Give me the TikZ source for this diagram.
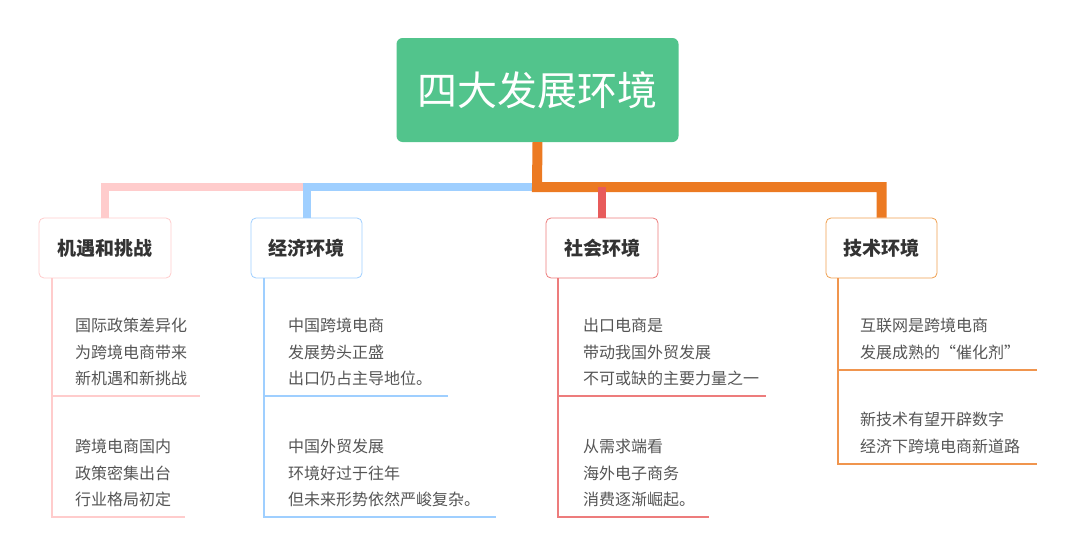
\documentclass[tikz,border=0pt]{standalone}
\usepackage{fontspec}
\setmainfont{Noto Sans CJK SC}
\newfontfamily\cjkb[BoldFont={Noto Sans CJK SC Bold}]{Noto Sans CJK SC}
\definecolor{cgreen}{HTML}{52C48C}
\definecolor{cpink}{HTML}{FFCCCC}
\definecolor{cblue}{HTML}{9FCFFF}
\definecolor{cred}{HTML}{E85B5B}
\definecolor{corange}{HTML}{EC7A22}
\definecolor{corl}{HTML}{F0A050}
\definecolor{ctext}{HTML}{555555}
\begin{document}
\begin{tikzpicture}[x=1pt,y=-1pt,
  lbl/.style={draw,rounded corners=5pt,fill=white,line width=0.8pt,minimum height=60pt,font=\fontsize{19}{19}\selectfont\bfseries,text=black!80,inner xsep=12pt},
  txt/.style={anchor=north west,align=left,font=\fontsize{16}{26.5}\selectfont,text=ctext,inner sep=0pt}]
\useasboundingbox (0,0) rectangle (1080,557);
\node[fill=cgreen,rounded corners=6pt,minimum width=282pt,minimum height=104pt,text=white,font=\fontsize{40}{40}\selectfont] (root) at (537.5,90) {四大发展环境};
\node[lbl,draw=cpink,minimum width=132pt] (a) at (105,248) {机遇和挑战};
\node[lbl,draw=cblue,minimum width=111pt] (b) at (306.5,248) {经济环境};
\node[lbl,draw=cred!80,minimum width=112pt] (c) at (602,248) {社会环境};
\node[lbl,draw=corl,minimum width=111pt] (d) at (881.5,248) {技术环境};
\coordinate (j) at (537,187);
% connectors
\draw[cpink,line width=8pt] (a.north) -- (a.north|-j) -- (j-|b.north);
\draw[cblue,line width=8pt] (b.north) -- (b.north|-j) -- (j);
\draw[corange,line width=10pt] (root.south) -- (j) -- (j-|d.north) -- (d.north);
\draw[cred,line width=8pt] (c.north|-j) -- (c.north);
% sub branches
\draw[cpink,line width=1.2pt] (52,278) -- (52,517) -- (185,517) (52,396) -- (200,396);
\draw[cblue,line width=1.2pt] (264,278) -- (264,517) -- (496,517) (264,396) -- (448,396);
\draw[cred!80,line width=1.2pt] (558,278) -- (558,517) -- (709,517) (558,396) -- (766,396);
\draw[corange!80,line width=1.2pt] (838,278) -- (838,464) -- (1037,464) (838,370) -- (1037,370);
\node[txt] (a1) at (75,318) {国际政策差异化\\为跨境电商带来\\新机遇和新挑战};
\node[txt] (a2) at (75,439) {跨境电商国内\\政策密集出台\\行业格局初定};
\node[txt] (b1) at (288,318) {中国跨境电商\\发展势头正盛\\出口仍占主导地位。};
\node[txt] (b2) at (288,439) {中国外贸发展\\环境好过于往年\\但未来形势依然严峻复杂。};
\node[txt] (c1) at (583,318) {出口电商是\\带动我国外贸发展\\不可或缺的主要力量之一};
\node[txt] (c2) at (583,439) {从需求端看\\海外电子商务\\消费逐渐崛起。};
\node[txt] (d1) at (860,318) {互联网是跨境电商\\发展成熟的“催化剂”};
\node[txt] (d2) at (860,412) {新技术有望开辟数字\\经济下跨境电商新道路};
\end{tikzpicture}
\end{document}
